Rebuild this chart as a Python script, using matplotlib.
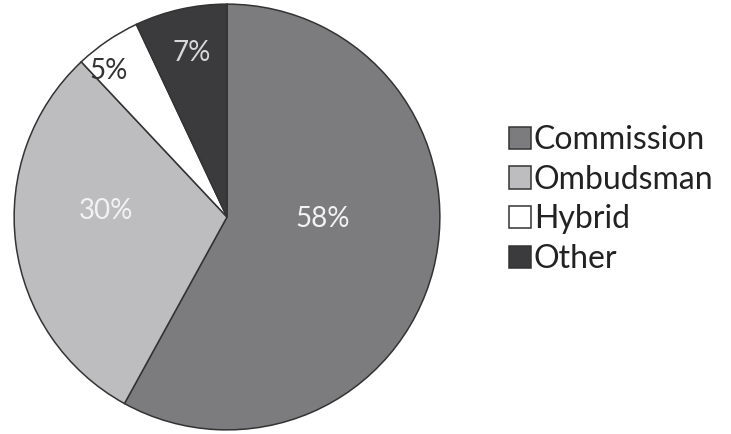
import matplotlib.pyplot as plt
import numpy as np

labels = ["Commission", "Ombudsman", "Hybrid", "Other"]
shares = [58, 30, 5, 7]
colors = ["#7c7c7e", "#bdbdbf", "#ffffff", "#3b3b3d"]
pct_colors = ["#f2f2f2", "#f2f2f2", "#333333", "#d8d8d8"]
# (radius, angle in deg) for the percent labels
pct_pos = [(0.45, -1), (0.57, 177), (0.88, 129), (0.79, 102)]

plt.rcParams['font.family'] = ['Lato', 'DejaVu Sans']

fig = plt.figure(figsize=(7.31, 4.34), dpi=100)
ax = fig.add_axes([12/731, 2/434, 430/731, 430/434])

wedges, texts, autotexts = ax.pie(
    shares, colors=colors, startangle=90, counterclock=False,
    autopct="%d%%", radius=1,
    wedgeprops=dict(edgecolor="#333333", linewidth=1.1),
    textprops=dict(fontsize=20))

for t, c, (r, a) in zip(autotexts, pct_colors, pct_pos):
    t.set_color(c)
    t.set_position((r*np.cos(np.radians(a)), r*np.sin(np.radians(a))))

ax.set_xlim(-1.01, 1.01)
ax.set_ylim(-1.01, 1.01)
ax.set_aspect("equal")

fig.legend(wedges, labels, loc="center left", bbox_to_anchor=(496/731, 0.54),
           frameon=False, fontsize=23, handlelength=0.7, handleheight=0.7,
           handletextpad=0.08, labelspacing=0.3, borderaxespad=0,
           labelcolor="#222222")

fig.savefig("out.png", dpi=100)
